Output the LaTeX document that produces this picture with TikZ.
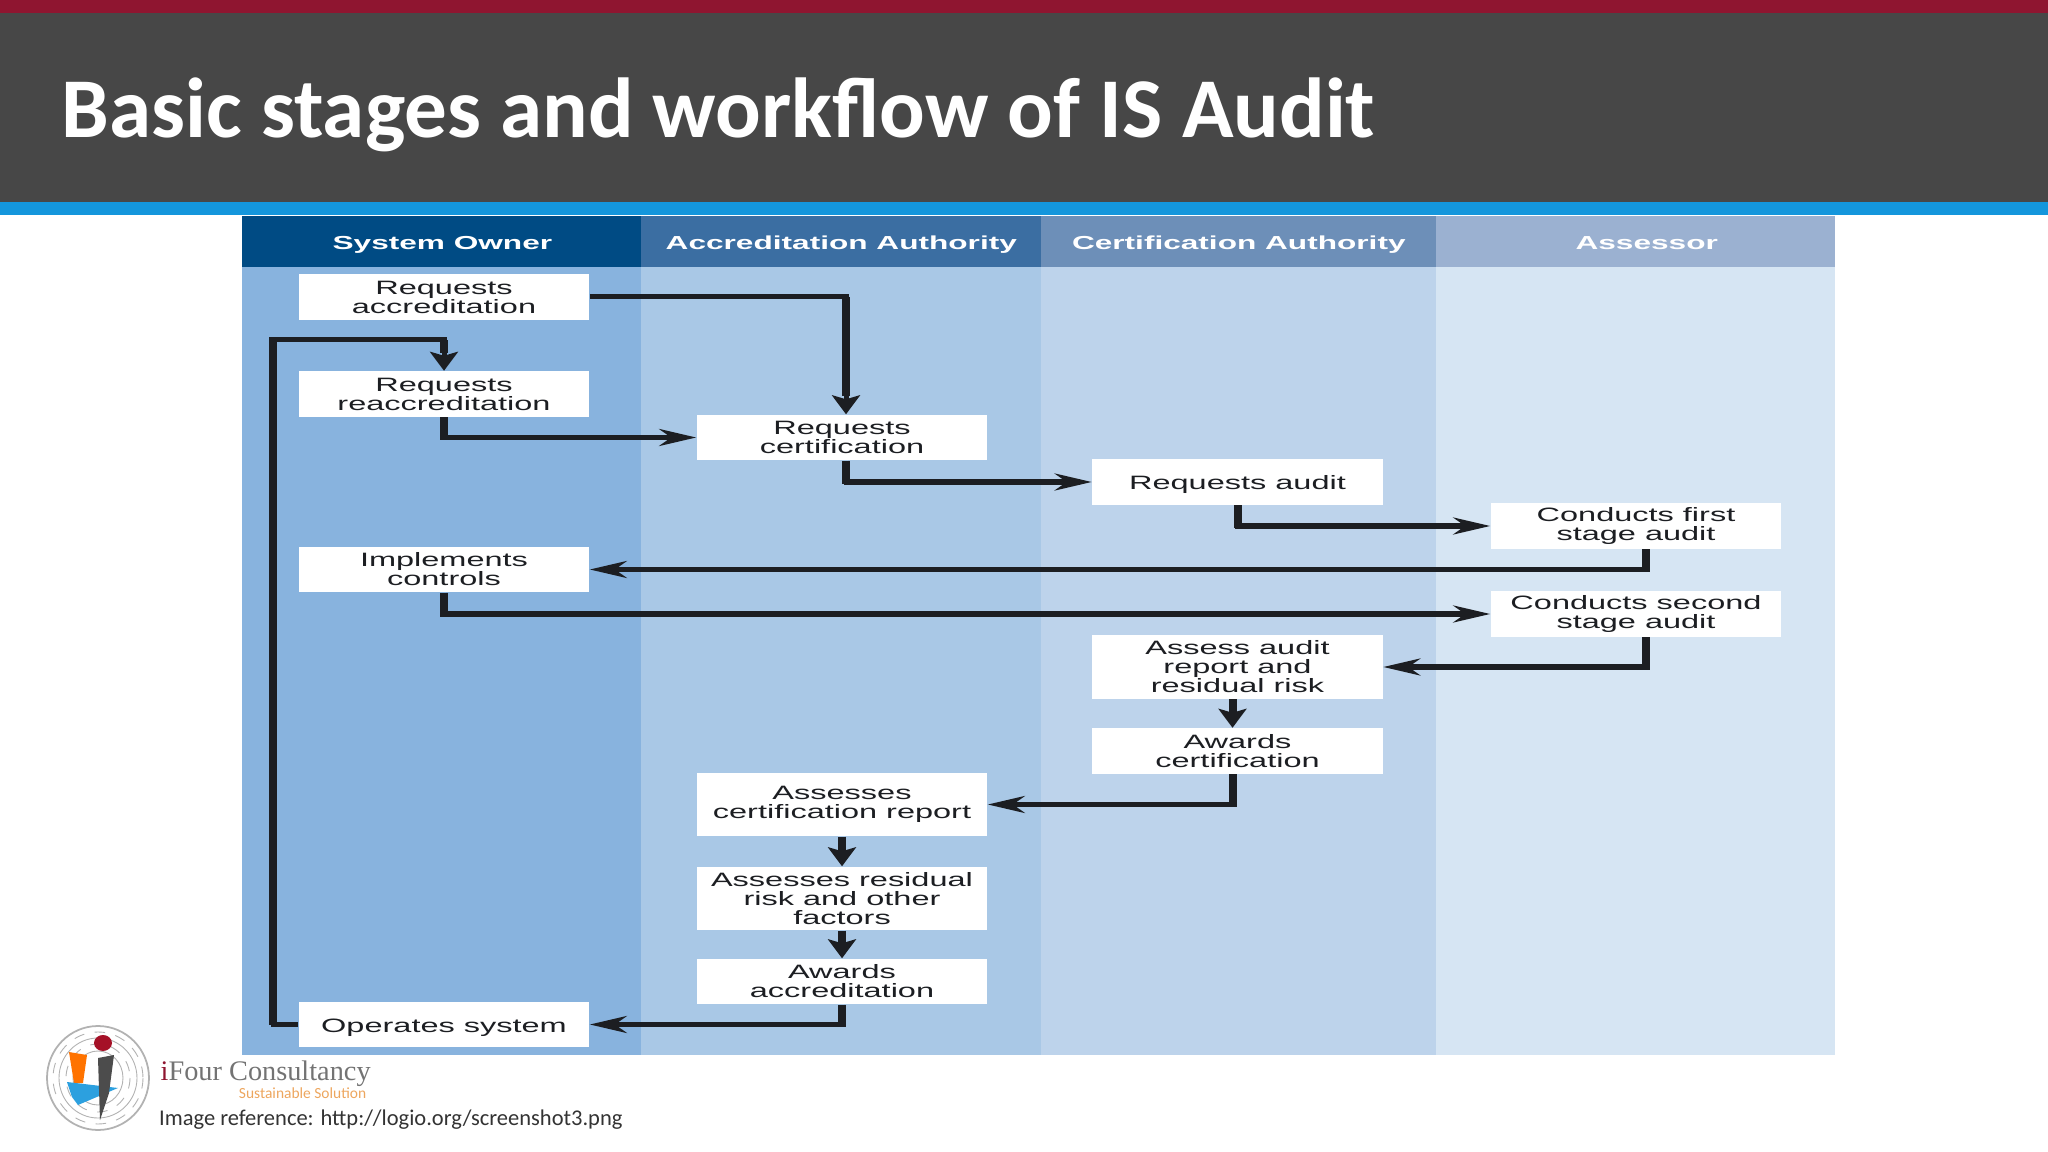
\documentclass[tikz,border=0pt]{standalone}
\usepackage{fontspec}
\setmainfont{Carlito}
\newfontfamily\boxfont[FakeStretch=1.68]{Liberation Sans}
\newfontfamily\serifmark{Liberation Serif}
\usetikzlibrary{arrows.meta,positioning}
\definecolor{auRed}{HTML}{8F1530}
\definecolor{auSlate}{HTML}{474747}
\definecolor{auBlue}{HTML}{1496DC}
\definecolor{auInk}{HTML}{1C1E22}
\definecolor{auLaneA}{HTML}{88B3DE}
\definecolor{auLaneB}{HTML}{A9C8E6}
\definecolor{auLaneC}{HTML}{BDD3EB}
\definecolor{auLaneD}{HTML}{D6E5F3}
\definecolor{auHeadA}{HTML}{004B84}
\definecolor{auHeadB}{HTML}{3B6EA2}
\definecolor{auHeadC}{HTML}{6D8FB8}
\definecolor{auHeadD}{HTML}{9BB1D1}
\tikzset{
  au diagram/.style={x=0.01cm, y=-0.01cm, line join=miter},
  au lane/.style={draw=none, anchor=north west, inner sep=0pt,
    minimum width=4cm, minimum height=7.88cm},
  au head/.style={draw=none, anchor=north west, inner sep=0pt,
    minimum width=4cm, minimum height=0.51cm, text=white,
    text height=6.2pt, text depth=1.5pt,
    font=\boxfont\bfseries\fontsize{5.35}{6}\selectfont},
  au box/.style={fill=white, inner sep=0pt, align=center, text=auInk,
    minimum width=2.9cm, minimum height=0.45cm,
    font=\boxfont\fontsize{5.5}{5.4}\selectfont},
  au tall box/.style={au box, minimum height=0.63cm},
  au one line/.style={au box, text height=5.5pt, text depth=1.2pt},
  au arrow/.style={-{Stealth[length=3.7mm, width=1.7mm, inset=1.2mm]}, draw=auInk,
    line width=0.05cm},
  au drop/.style={-{Stealth[length=1.9mm, width=2.8mm, inset=0.4mm]}, draw=auInk,
    line width=0.08cm},
  au stem/.style={draw=auInk, line width=0.08cm, shorten >=-0.025cm},
  au ring/.style={draw=black!30, line width=0.25pt}
}
\begin{document}
\begin{tikzpicture}[au diagram]
\useasboundingbox (0,0) rectangle (2048,1152);
% slide banner
\fill[auRed] (0,0) rectangle (2048,13);
\fill[auSlate] (0,13) rectangle (2048,202);
\fill[auBlue] (0,202) rectangle (2048,215.5);
\node[anchor=base west, inner sep=0pt, text=white, font=\bfseries\fontsize{24.2}{28}\selectfont]
  (title) at (61,138) {Basic stages and workflow of IS Audit};
% swimlanes
\node[au lane, fill=auLaneA] (laneA) at (241.6,266) {};
\node[au lane, fill=auLaneB] (laneB) at (640.5,266) {};
\node[au lane, fill=auLaneC, minimum width=3.96cm] (laneC) at (1040,266) {};
\node[au lane, fill=auLaneD, minimum width=3.99cm] (laneD) at (1435.4,266) {};
\node[au head, fill=auHeadA] (headA) at (241.6,215.5) {System Owner};
\node[au head, fill=auHeadB] (headB) at (640.5,215.5) {Accreditation Authority};
\node[au head, fill=auHeadC, minimum width=3.96cm] (headC) at (1040,215.5) {Certification Authority};
\node[au head, fill=auHeadD, minimum width=3.99cm] (headD) at (1435.4,215.5) {\hspace*{0.22cm}Assessor};
% system owner
\node[au box] (accred) at (444,297) {Requests\\accreditation};
\node[au box] (reaccred) at (444,394) {Requests\\reaccreditation};
\node[au box] (controls) at (444,569.5) {Implements\\controls};
\node[au one line] (operates) at (444,1024.5) {Operates system};
% accreditation authority
\node[au box] (reqcert) at (842,437.5) {Requests\\certification};
\node[au tall box] (assessrep) at (842,804.5) {Assesses\\certification report};
\node[au tall box] (assessrisk) at (842,898.5) {Assesses residual\\risk and other\\factors};
\node[au box] (awardacc) at (842,981.5) {Awards\\accreditation};
% certification authority
\node[au one line] (reqaudit) at (1237.5,482) {Requests audit};
\node[au tall box] (assessaudit) at (1237.5,667) {Assess audit\\report and\\residual risk};
\node[au box] (awardcert) at (1237.5,751) {Awards\\certification};
% assessor
\node[au box] (first) at (1636,526) {Conducts first\\stage audit};
\node[au box] (second) at (1636,614) {Conducts second\\stage audit};
% connectors
\coordinate (loop) at (273,340);
\coordinate (loopfoot) at (operates.west -| loop);
\coordinate (certin) at ([xshift=0.04cm]reqcert.north);
\coordinate (certout) at ([xshift=0.04cm]reqcert.south);
\coordinate (firstout) at ([xshift=0.1cm]first.south);
\coordinate (secondout) at ([xshift=0.1cm]second.south);
\coordinate (auditout) at ([xshift=-0.05cm]assessaudit.south);
\coordinate (awardin) at ([xshift=-0.05cm]awardcert.north);
\coordinate (awardout) at ([xshift=-0.05cm]awardcert.south);
\draw[au arrow] (reaccred.south) |- (reqcert.west);
\draw[au arrow] (certout) |- (reqaudit.west);
\draw[au arrow] (reqaudit.south) |- (first.west);
\draw[au arrow] (firstout) |- (controls.east);
\draw[au arrow] (controls.south) |- (second.west);
\draw[au arrow] (secondout) |- (assessaudit.east);
\draw[au arrow] (awardout) |- (assessrep.east);
\draw[au arrow] (awardacc.south) |- (operates.east);
\draw[au drop] (auditout) -- (awardin);
\draw[au drop] (assessrep.south) -- (assessrisk.north);
\draw[au drop] (assessrisk.south) -- (awardacc.north);
\draw[au drop, line width=0.05cm] (accred.east) -| (certin);
\draw[au drop, line width=0.05cm] (operates.west) -| (loop) -| (reaccred.north);
% the upright runs are heavier
\foreach \from/\to in {reaccred.south/reqcert.west, certout/reqaudit.west,
    reqaudit.south/first.west, firstout/controls.east, controls.south/second.west,
    secondout/assessaudit.east, awardout/assessrep.east, awardacc.south/operates.east}
  \draw[au stem] (\from) -- (\from |- \to);
\draw[au stem] (loopfoot) -- (loop);
\draw[au stem, shorten >=0pt] (loop -| reaccred.north) -- ([yshift=0.18cm]reaccred.north);
\draw[au stem, shorten >=0pt] (accred.east -| certin) -- ([yshift=0.18cm]certin);
% logo
\fill[white] (98,1078) ellipse (51 and 52);
\draw[au ring, line width=0.5pt] (98,1078) ellipse (51 and 52);
\draw[au ring, dashed] (98,1078) ellipse (45 and 46);
\draw[au ring] (98,1078) ellipse (39 and 40);
\draw[au ring, dashed] (98,1078) ellipse (32 and 34);
\draw[au ring] (98,1078) ellipse (25 and 27);
\fill[orange!90!red] (69,1052) -- (87,1055) -- (83,1083) -- (74,1083) -- cycle;
\fill[auBlue!90!white] (67,1082) -- (118,1088) -- (78,1105) -- (72,1097) -- cycle;
\fill[black!70] (98,1058) -- (114,1055) -- (109,1093) -- (100,1120) -- cycle;
\fill[auRed!80!red] (103,1043) ellipse (9 and 8);
\node[anchor=base west, inner sep=0pt, text=black!55, font=\serifmark\fontsize{8.05}{9}\selectfont]
  (brand) at (160,1080) {\textcolor{auRed}{i}Four Consultancy};
\node[anchor=east, inner sep=0pt, text=orange!60!brown!70, font=\fontsize{4.4}{5}\selectfont]
  (motto) at (367,1093) {Sustainable Solution};
\node[anchor=base west, inner sep=0pt, text=black!80, font=\fontsize{6.4}{7}\selectfont]
  (credit) at (158.5,1125) {Image reference: http://logio.org/screenshot3.png};
\end{tikzpicture}
\end{document}
